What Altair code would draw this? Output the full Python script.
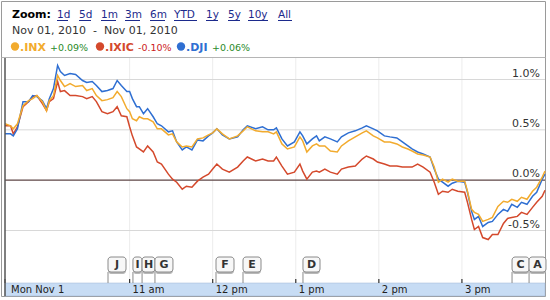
import altair as alt
import pandas as pd

# ---- data (minutes after 9:30 open, % change) ----
minutes = [0, 4, 6, 9, 13, 17, 20, 23, 27, 30, 32, 35, 38, 40, 43, 47, 51, 56, 59, 63,
           66, 70, 74, 78, 81, 84, 88, 90, 92, 95, 97, 100, 103, 107, 110, 113, 118, 121, 124, 128,
           131, 135, 139, 143, 147, 150, 153, 157, 162, 168, 172, 175, 181, 186, 190, 194, 196, 200, 204, 209,
           213, 215, 218, 222, 225, 227, 231, 235, 240, 243, 248, 253, 258, 261, 266, 269, 274, 278, 283, 287,
           291, 294, 298, 302, 307, 310, 313, 316, 320, 323, 327, 332, 334, 337, 339, 342, 345, 349, 352, 356,
           360, 363, 366, 370, 373, 377, 381, 384, 388, 390]
dji = [0.46, 0.46, 0.44, 0.51, 0.78, 0.78, 0.84, 0.83, 0.79, 0.71, 0.81, 0.91, 1.14, 1.08, 1.04, 1.06, 1.05, 0.99, 0.97, 0.98,
       0.94, 0.88, 0.89, 0.91, 0.99, 0.94, 0.88, 0.88, 0.81, 0.73, 0.73, 0.66, 0.71, 0.63, 0.56, 0.54, 0.48, 0.49, 0.38, 0.30,
       0.33, 0.30, 0.40, 0.39, 0.44, 0.47, 0.51, 0.45, 0.41, 0.43, 0.50, 0.54, 0.51, 0.53, 0.50, 0.50, 0.52, 0.41, 0.34, 0.38,
       0.48, 0.44, 0.36, 0.41, 0.44, 0.39, 0.43, 0.41, 0.38, 0.43, 0.47, 0.49, 0.52, 0.54, 0.51, 0.49, 0.44, 0.43, 0.42, 0.38,
       0.34, 0.31, 0.28, 0.26, 0.23, 0.11, 0.01, -0.02, -0.06, -0.03, -0.01, -0.02, -0.12, -0.31, -0.39, -0.36, -0.46, -0.42, -0.41, -0.34,
       -0.29, -0.31, -0.24, -0.27, -0.22, -0.24, -0.16, -0.12, 0.01, 0.06]
inx = [0.56, 0.54, 0.51, 0.56, 0.74, 0.79, 0.81, 0.84, 0.78, 0.69, 0.79, 0.84, 1.04, 0.99, 0.93, 0.96, 0.93, 0.94, 0.89, 0.91,
       0.84, 0.79, 0.80, 0.82, 0.88, 0.83, 0.71, 0.68, 0.61, 0.59, 0.63, 0.61, 0.61, 0.58, 0.51, 0.51, 0.45, 0.46, 0.38, 0.33,
       0.34, 0.33, 0.41, 0.42, 0.45, 0.47, 0.51, 0.46, 0.41, 0.44, 0.49, 0.53, 0.49, 0.48, 0.48, 0.46, 0.48, 0.36, 0.31, 0.33,
       0.43, 0.39, 0.28, 0.34, 0.36, 0.34, 0.34, 0.29, 0.28, 0.34, 0.39, 0.43, 0.47, 0.49, 0.44, 0.42, 0.38, 0.38, 0.36, 0.33,
       0.31, 0.29, 0.26, 0.25, 0.23, 0.13, -0.02, 0.01, -0.02, 0.01, -0.01, -0.01, -0.11, -0.29, -0.32, -0.34, -0.41, -0.39, -0.37, -0.26,
       -0.21, -0.22, -0.19, -0.21, -0.17, -0.19, -0.11, -0.07, 0.03, 0.09]
ixic = [0.54, 0.54, 0.46, 0.53, 0.73, 0.78, 0.83, 0.84, 0.76, 0.69, 0.78, 0.81, 0.98, 0.88, 0.89, 0.84, 0.84, 0.83, 0.81, 0.83,
        0.78, 0.68, 0.66, 0.68, 0.73, 0.64, 0.63, 0.53, 0.44, 0.33, 0.31, 0.28, 0.34, 0.28, 0.18, 0.16, 0.06, 0.01, -0.02, -0.09,
        -0.06, -0.07, -0.01, 0.03, 0.06, 0.11, 0.16, 0.11, 0.08, 0.13, 0.19, 0.23, 0.19, 0.21, 0.19, 0.19, 0.23, 0.14, 0.06, 0.08,
        0.16, 0.09, 0.01, 0.08, 0.09, 0.08, 0.11, 0.08, 0.06, 0.11, 0.13, 0.14, 0.21, 0.24, 0.21, 0.18, 0.16, 0.14, 0.14, 0.13,
        0.13, 0.13, 0.16, 0.13, 0.08, -0.02, -0.14, -0.11, -0.12, -0.09, -0.11, -0.12, -0.22, -0.39, -0.49, -0.46, -0.57, -0.59, -0.54, -0.54,
        -0.43, -0.38, -0.37, -0.36, -0.32, -0.34, -0.27, -0.22, -0.16, -0.10]

series_names = [".INX", ".IXIC", ".DJI"]
series_colors = ["#f2ab2e", "#d4492c", "#2f6fd2"]
series_changes = ["+0.09%", "-0.10%", "+0.06%"]
change_colors = ["#2a8a2a", "#cc2222", "#2a8a2a"]

grid_values = [1.0, 0.5, -0.5]
grid_labels_values = [1.0, 0.5, 0.0, -0.5]
grid_labels = ["1.0%", "0.5%", "0.0%", "-0.5%"]

hour_minutes = [0, 90, 150, 210, 270, 330]
hour_labels = ["Mon Nov 1", "11 am", "12 pm", "1 pm", "2 pm", "3 pm"]

flag_letters = ["J", "I", "H", "G", "F", "E", "D", "C", "A"]
flag_start = [74.4, 92.4, 99.0, 108.3, 152.4, 171.9, 215.2, 366.2, 378.5]
flag_end = [87.4, 99.0, 108.3, 121.3, 165.4, 184.9, 227.5, 378.5, 390.7]

zoom_links = ["1d", "5d", "1m", "3m", "6m", "YTD", "1y", "5y", "10y", "All"]
zoom_link_x = [57, 79, 101, 125, 150, 174, 206, 228, 248, 278]
zoom_link_x2 = [68, 91, 116, 140, 165, 197, 218, 240, 268, 292]

legend_dot_x = [15, 100, 181]
legend_change_x = [50, 138, 212]

FONT = "DejaVu Sans"

xs = alt.Scale(domain=[0, 390], range=[5, 545])
ys = alt.Scale(domain=[-0.5, 1.0], range=[230.5, 79.5])

rows = []
for name, vals in [(".IXIC", ixic), (".DJI", dji), (".INX", inx)]:
    for i, (m, v) in enumerate(zip(minutes, vals)):
        rows.append({"m": m, "v": v, "s": name, "o": i})
lines_df = pd.DataFrame(rows)

one = pd.DataFrame({"a": [0]})

# ---- decorations ----
frame = alt.Chart(one).mark_rect(fill="white", stroke="#9a9a9a", strokeWidth=1).encode(
    x=alt.value(1.5), x2=alt.value(545.5), y=alt.value(1.5), y2=alt.value(296.5))

header_sep = alt.Chart(one).mark_rule(color="#b5b5b5", strokeWidth=1).encode(
    x=alt.value(1.5), x2=alt.value(545.5), y=alt.value(57.5))

vgrid = alt.Chart(pd.DataFrame({"m": hour_minutes[1:]})).mark_rule(color="#ececec", strokeWidth=1).encode(
    x=alt.X("m:Q", scale=xs, axis=None), y=alt.value(58), y2=alt.value(283))

hgrid = alt.Chart(pd.DataFrame({"v": grid_values})).mark_rule(color="#d8d8d8", strokeWidth=1).encode(
    y=alt.Y("v:Q", scale=ys, axis=None), x=alt.value(5), x2=alt.value(545))

zero = alt.Chart(pd.DataFrame({"v": [0.0]})).mark_rule(color="#5e4646", strokeWidth=1.2).encode(
    y=alt.Y("v:Q", scale=ys, axis=None), x=alt.value(5), x2=alt.value(545))

left_axis = alt.Chart(one).mark_rule(color="#555555", strokeWidth=1.5).encode(
    x=alt.value(5), y=alt.value(58), y2=alt.value(296))

ylabels = alt.Chart(pd.DataFrame({"v": grid_labels_values, "t": grid_labels})).mark_text(
    font=FONT, fontSize=11, color="#333333", align="right", baseline="bottom", dy=-1).encode(
    y=alt.Y("v:Q", scale=ys, axis=None), x=alt.value(540), text="t:N")

lines = alt.Chart(lines_df).mark_line(strokeWidth=1.5, interpolate="linear").encode(
    x=alt.X("m:Q", scale=xs, axis=None),
    y=alt.Y("v:Q", scale=ys, axis=None),
    color=alt.Color("s:N", scale=alt.Scale(domain=series_names, range=series_colors), legend=None),
    order="o:Q",
    detail="s:N")

band = alt.Chart(one).mark_rect(fill="#c7dcf4", stroke="#9fb7d6", strokeWidth=0.5).encode(
    x=alt.value(5), x2=alt.value(545), y=alt.value(283), y2=alt.value(296))

ticks = alt.Chart(pd.DataFrame({"m": hour_minutes})).mark_rule(color="#333333", strokeWidth=1.2).encode(
    x=alt.X("m:Q", scale=xs, axis=None), y=alt.value(279), y2=alt.value(283))

xlab_df = pd.DataFrame({"m": hour_minutes, "t": hour_labels})
xlabel_first = alt.Chart(xlab_df.iloc[:1]).mark_text(
    font=FONT, fontSize=10, color="#222222", align="left", baseline="alphabetic", dx=6).encode(
    x=alt.X("m:Q", scale=xs, axis=None), y=alt.value(293), text="t:N")
xlabels = alt.Chart(xlab_df.iloc[1:]).mark_text(
    font=FONT, fontSize=10, color="#222222", align="left", baseline="alphabetic", dx=3).encode(
    x=alt.X("m:Q", scale=xs, axis=None), y=alt.value(293), text="t:N")

flags_df = pd.DataFrame({"t": flag_letters, "a": flag_start, "b": flag_end})
flag_stems = alt.Chart(flags_df).mark_rule(color="#8a8a8a", strokeWidth=1).encode(
    x=alt.X("a:Q", scale=xs, axis=None), y=alt.value(272), y2=alt.value(283))
flag_shadow = alt.Chart(flags_df).mark_rect(fill="#b8b8b8", cornerRadius=3).encode(
    x=alt.X("a:Q", scale=xs, axis=None), x2="b:Q", y=alt.value(259), y2=alt.value(274))
flag_boxes = alt.Chart(flags_df).mark_rect(fill="#f7f7f7", stroke="#8a8a8a", strokeWidth=1, cornerRadius=3).encode(
    x=alt.X("a:Q", scale=xs, axis=None), x2="b:Q", y=alt.value(257), y2=alt.value(272))
flag_text = alt.Chart(flags_df).mark_text(font=FONT, fontSize=11, fontWeight="bold", color="#333333",
                                          baseline="middle", align="center").encode(
    x=alt.X("mid:Q", scale=xs, axis=None), y=alt.value(265), text="t:N").transform_calculate(
    mid="(datum.a + datum.b) / 2")

# header
zoom_title = alt.Chart(pd.DataFrame({"t": ["Zoom:"]})).mark_text(
    font=FONT, fontSize=11, fontWeight="bold", color="#000000", align="left", baseline="alphabetic").encode(
    x=alt.value(12), y=alt.value(18), text="t:N")
links_df = pd.DataFrame({"t": zoom_links, "x": zoom_link_x, "x2": zoom_link_x2})
link_text = alt.Chart(links_df).mark_text(
    font=FONT, fontSize=10.5, color="#1c2a8c", align="left", baseline="alphabetic").encode(
    x=alt.X("x:Q", scale=None), y=alt.value(18), text="t:N")
link_ul = alt.Chart(links_df).mark_rule(color="#1c2a8c", strokeWidth=1).encode(
    x=alt.X("x:Q", scale=None), x2="x2:Q", y=alt.value(20.5))
date_text = alt.Chart(pd.DataFrame({"t": ["Nov 01, 2010\u00a0\u00a0-\u00a0\u00a0Nov 01, 2010"]})).mark_text(
    font=FONT, fontSize=11, color="#333333", align="left", baseline="alphabetic").encode(
    x=alt.value(12), y=alt.value(34), text="t:N")

leg_df = pd.DataFrame({"s": series_names, "c": series_colors, "ch": series_changes, "cc": change_colors,
                       "x": legend_dot_x, "xc": legend_change_x})
leg_dots = alt.Chart(leg_df).mark_circle(size=70, opacity=1).encode(
    x=alt.X("x:Q", scale=None), y=alt.value(46.5), color=alt.Color("c:N", scale=None))
leg_names = alt.Chart(leg_df).mark_text(font=FONT, fontSize=11, fontWeight="bold", align="left",
                                        baseline="alphabetic", dx=5).encode(
    x=alt.X("x:Q", scale=None), y=alt.value(51), text="s:N", color=alt.Color("c:N", scale=None))
leg_changes = alt.Chart(leg_df).mark_text(font=FONT, fontSize=9.5, align="left",
                                          baseline="alphabetic").encode(
    x=alt.X("xc:Q", scale=None), y=alt.value(51), text="ch:N", color=alt.Color("cc:N", scale=None))

chart = alt.layer(
    frame, header_sep, vgrid, hgrid, zero, lines, ylabels, band, ticks, xlabel_first, xlabels,
    flag_stems, flag_shadow, flag_boxes, flag_text, left_axis,
    zoom_title, link_text, link_ul, date_text, leg_dots, leg_names, leg_changes
).resolve_scale(color="independent").properties(
    width=550, height=300, padding=0, autosize="none", background="white"
).configure_view(strokeWidth=0)

chart.save("out.html", embed_options={"renderer": "svg", "actions": False})
